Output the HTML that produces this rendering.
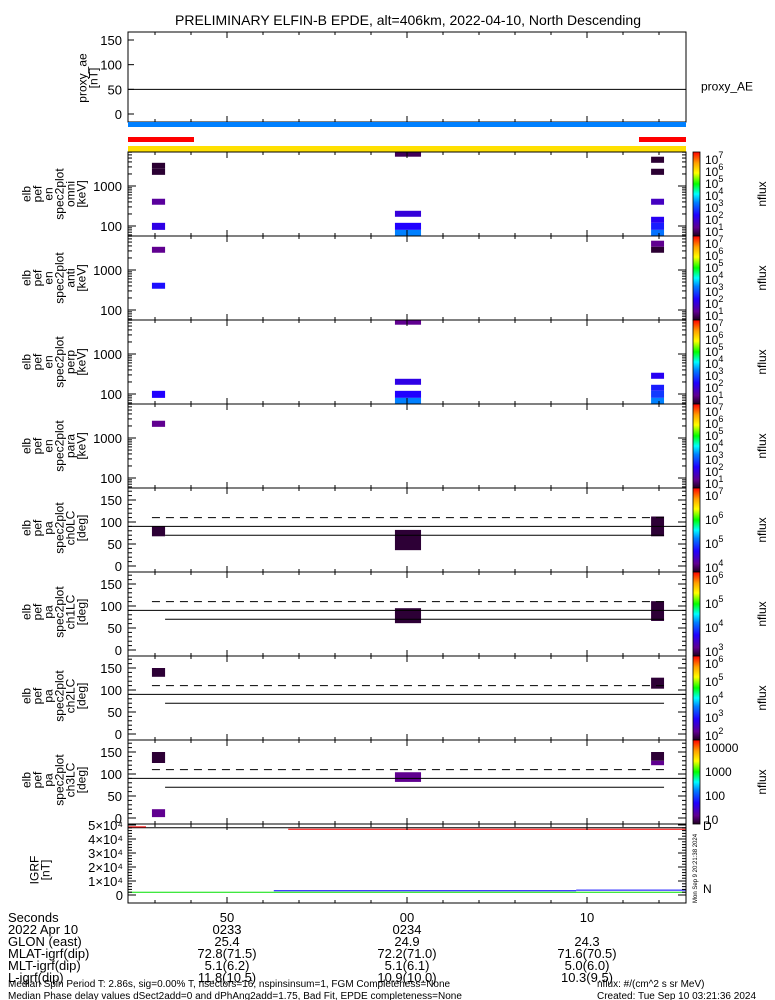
<!DOCTYPE html>
<html><head><meta charset="utf-8"><style>
html,body{margin:0;padding:0;background:#fff}
svg{display:block;font-family:"Liberation Sans",sans-serif}
text{fill:#000}
</style></head><body>
<svg id="s" width="775" height="1000" viewBox="0 0 775 1000">
<defs><linearGradient id="cmap" x1="0" y1="1" x2="0" y2="0">
<stop offset="0" stop-color="#200020"/><stop offset="0.1" stop-color="#600090"/><stop offset="0.25" stop-color="#2000ff"/><stop offset="0.4" stop-color="#0080ff"/><stop offset="0.5" stop-color="#00ffff"/><stop offset="0.62" stop-color="#00ff00"/><stop offset="0.75" stop-color="#ffff00"/><stop offset="0.87" stop-color="#ffa000"/><stop offset="1" stop-color="#ff0000"/></linearGradient></defs>
<text x="408" y="25" font-size="14" text-anchor="middle">PRELIMINARY ELFIN-B EPDE, alt=406km, 2022-04-10, North Descending</text>
<g id="g"></g>
</svg>
<script>
// ---- data ----
const aeTicks=[0,50,100,150];
const aeValue=50;
const energyEdges=[50,80,120,170,240,340,480,680,950,1350,1900,2700,3800,5400,7000];
const energyTicks=[100,1000];
const slotStart=[-4.17,9.33,23.56];
const slotEnd=[-3.44,10.78,24.28];
// spectra: [slot, energy-bin index, log10 nflux]
const omniBlocks=[[0,10,1.1],[0,11,1.1],[0,5,1.7],[0,1,2.3],[1,13,1.3],[1,3,2.2],[1,1,2.5],[1,0,3.4],[2,12,1.1],[2,10,1.1],[2,5,2.0],[2,2,2.4],[2,1,2.7],[2,0,3.3]];
const antiBlocks=[[0,11,1.6],[0,5,2.6],[2,12,1.6],[2,11,1.1]];
const perpBlocks=[[0,1,2.5],[1,13,1.6],[1,3,2.3],[1,1,2.5],[1,0,3.4],[2,4,2.4],[2,2,2.7],[2,1,2.9],[2,0,3.4]];
const paraBlocks=[[0,10,1.6]];
const paTicks=[0,50,100,150];
// pitch-angle blocks: [slot, pa low, pa high, fraction of colorbar]
const ch0Blocks=[[0,67.5,90,0.02],[1,36,82,0.02],[2,67.5,112.5,0.02]];
const ch1Blocks=[[1,61,95,0.02],[2,66,111,0.02]];
const ch2Blocks=[[0,130,150,0.02],[2,103,128,0.02]];
const ch3Blocks=[[0,125,150,0.02],[2,130,150,0.02],[2,120,130,0.1],[1,82,104,0.1],[0,2,20,0.1]];
const lossCone=[90,70,110];
const igrfTicks=["0","1×10⁴","2×10⁴","3×10⁴","4×10⁴","5×10⁴"];
const igrfTotal=48000, igrfD=[[-5.5,-4.5,48700],[3.4,25.5,47000]];
const igrfN=[[2.6,19.4,3000],[19.4,25.5,3500]], igrfE=2000;
const timeTicks=[0,10,20]; const timeLabels=["50","00","10"];
const rows=[["Seconds","50","00","10"],["2022 Apr 10","0233","0234",""],["GLON (east)","25.4","24.9","24.3"],["MLAT-igrf(dip)","72.8(71.5)","72.2(71.0)","71.6(70.5)"],["MLT-igrf(dip)","5.1(6.2)","5.1(6.1)","5.0(6.0)"],["L-igrf(dip)","11.8(10.5)","10.9(10.0)","10.3(9.5)"]];
// ---- drawing ----
const NS="http://www.w3.org/2000/svg",G=document.getElementById('g');
const X0=128,X1=686;
const xs=t=>X0+(t+5.5)*18;
function el(tag,at,txt){const e=document.createElementNS(NS,tag);for(const k in at)e.setAttribute(k,at[k]);if(txt!==undefined)e.textContent=txt;G.appendChild(e);return e;}
function cm(f){const st=[[0,[32,0,32]],[.1,[96,0,144]],[.25,[32,0,255]],[.4,[0,128,255]],[.5,[0,255,255]],[.62,[0,255,0]],[.75,[255,255,0]],[.87,[255,160,0]],[1,[255,0,0]]];
f=Math.max(0,Math.min(1,f));for(let i=1;i<st.length;i++)if(f<=st[i][0]){const a=st[i-1],b=st[i],u=(f-a[0])/(b[0]-a[0]);return 'rgb('+a[1].map((v,j)=>Math.round(v+(b[1][j]-v)*u)).join(',')+')';}return 'red';}
function xTicks(top,bot){for(let t=-4;t<=25;t+=2){const x=xs(t),big=t%10==0;
let e=el('line',{x1:x,x2:x,y1:top,y2:top+(big?6:3),stroke:'#000'});
e=el('line',{x1:x,x2:x,y1:bot,y2:bot-(big?6:3),stroke:'#000'});}}
function box(top,bot,name){const e=el('rect',{x:X0,y:top,width:X1-X0,height:bot-top,fill:'none',stroke:'#000'});xTicks(top,bot);}
function ylab(lines,cx,cy,name){const t=el('text',{transform:`translate(${cx},${cy}) rotate(-90)`,'font-size':12,'text-anchor':'middle'});
lines.forEach((l,i)=>{const s=document.createElementNS(NS,'tspan');s.setAttribute('x',0);s.setAttribute('dy',i==0?-(lines.length-1)*5.5:11);s.textContent=l;t.appendChild(s);});}
function cbar(top,bot,labels,name){let e=el('rect',{x:693,y:top,width:7,height:bot-top,fill:'url(#cmap)',stroke:'#000','stroke-width':.8});
labels.forEach((l,i)=>{const y=top+7+i*(bot-top-12)/(labels.length-1);const tx=el('text',{x:705,y:y+5,'font-size':12});
if(l[0]=='e'){tx.textContent='10';const s=document.createElementNS(NS,'tspan');s.setAttribute('dy',-6);s.setAttribute('font-size',9);s.textContent=l.slice(1);tx.appendChild(s);}else tx.textContent=l;});
e=el('text',{transform:`translate(766,${(top+bot)/2}) rotate(-90)`,'font-size':12,'text-anchor':'middle'},'nflux');}
// proxy AE
{const top=32,bot=122,ya=v=>114-v*(74/150);box(top,bot,'proxy-ae-panel');
aeTicks.forEach(v=>{let e=el('text',{x:122,y:ya(v)+5,'font-size':13,'text-anchor':'end'},v);
e=el('line',{x1:X0,x2:X0+6,y1:ya(v),y2:ya(v),stroke:'#000'});});
let e=el('line',{x1:X0,x2:X1,y1:ya(aeValue),y2:ya(aeValue),stroke:'#000'});
e=el('text',{x:701,y:ya(aeValue)+1,'font-size':12},'proxy_AE');
ylab(['proxy_ae','[nT]'],92,78,'ae-axis-title');
e=el('rect',{x:X0,y:122,width:X1-X0,height:5,fill:'#0080ff'});
e=el('rect',{x:X0,y:137,width:66,height:5,fill:'#ff0000'});
e=el('rect',{x:639,y:137,width:47,height:5,fill:'#ff0000'});
e=el('rect',{x:X0,y:146,width:X1-X0,height:6,fill:'#ffe000'});}
// spectra
const specs=[['omni',omniBlocks],['anti',antiBlocks],['perp',perpBlocks],['para',paraBlocks]];
specs.forEach((sp,k)=>{const top=152+k*84,bot=top+84,ye=E=>top+34-40*(Math.log10(E)-3);
sp[1].forEach(b=>{const y1=Math.max(top,ye(energyEdges[b[1]+1])),y2=Math.min(bot,ye(energyEdges[b[1]]));
const r=el('rect',{x:xs(slotStart[b[0]]),y:y1,width:xs(slotEnd[b[0]])-xs(slotStart[b[0]]),height:y2-y1,fill:cm((b[2]-1)/6)});
});
box(top,bot,sp[0]+'-spectrum-panel');
for(let d=1;d<=3;d++)for(let m=1;m<10;m++){const y=ye(m*Math.pow(10,d));if(y<top||y>bot)continue;
let e=el('line',{x1:X0,x2:X0+(m==1?8:4),y1:y,y2:y,stroke:'#000'});
e=el('line',{x1:X1,x2:X1-(m==1?8:4),y1:y,y2:y,stroke:'#000'});}
energyTicks.forEach(E=>{const e=el('text',{x:122,y:ye(E)+5,'font-size':13,'text-anchor':'end'},E);});
ylab(['elb','pef','en','spec2plot',sp[0],'[keV]'],58,top+42,sp[0]+'-axis-title');
cbar(top,bot,['e7','e6','e5','e4','e3','e2','e1'],sp[0]+'-colorbar');});
// pitch angle
const pas=[['ch0LC',ch0Blocks,['e7','e6','e5','e4']],['ch1LC',ch1Blocks,['e6','e5','e4','e3']],['ch2LC',ch2Blocks,['e6','e5','e4','e3','e2']],['ch3LC',ch3Blocks,['10000','1000','100','10']]];
pas.forEach((p,k)=>{const top=488+k*84,bot=top+84,yp=d=>top+78-d*0.44;
p[1].forEach(b=>{const r=el('rect',{x:xs(slotStart[b[0]]),y:yp(b[2]),width:xs(slotEnd[b[0]])-xs(slotStart[b[0]]),height:yp(b[1])-yp(b[2]),fill:cm(b[3])});
});
let e=el('line',{x1:X0,x2:X1,y1:yp(lossCone[0]),y2:yp(lossCone[0]),stroke:'#000'});
e=el('line',{x1:xs(-3.44),x2:xs(24.28),y1:yp(lossCone[1]),y2:yp(lossCone[1]),stroke:'#000'});
e=el('line',{x1:xs(-4.17),x2:xs(24.28),y1:yp(lossCone[2]),y2:yp(lossCone[2]),stroke:'#000','stroke-dasharray':'8,6'});
box(top,bot,p[0]+'-panel');
for(let d=0;d<=180;d+=10){const y=yp(d);if(y<top)continue;const big=d%50==0;
e=el('line',{x1:X0,x2:X0+(big?8:4),y1:y,y2:y,stroke:'#000'});
e=el('line',{x1:X1,x2:X1-(big?8:4),y1:y,y2:y,stroke:'#000'});}
paTicks.forEach(d=>{const e=el('text',{x:122,y:yp(d)+5,'font-size':13,'text-anchor':'end'},d);});
ylab(['elb','pef','pa','spec2plot',p[0],'[deg]'],58,top+40,p[0]+'-axis-title');
cbar(top,bot,p[2],p[0]+'-colorbar');});
// IGRF
{const top=824,bot=903,yb=v=>895-v*14/10000;
let e=el('line',{x1:X0,x2:X1,y1:yb(igrfTotal),y2:yb(igrfTotal),stroke:'#000'});
igrfD.forEach(s=>{const l=el('line',{x1:xs(s[0]),x2:xs(s[1]),y1:yb(s[2]),y2:yb(s[2]),stroke:'#ff0000'});});
e=el('line',{x1:X0,x2:X1,y1:yb(igrfE),y2:yb(igrfE),stroke:'#00e000'});
igrfN.forEach(s=>{const l=el('line',{x1:xs(s[0]),x2:xs(s[1]),y1:yb(s[2]),y2:yb(s[2]),stroke:'#0000ff'});});
box(top,bot,'igrf-panel');
for(let v=0;v<=50000;v+=2000){const y=yb(v);const big=v%10000==0;
e=el('line',{x1:X0,x2:X0+(big?8:4),y1:y,y2:y,stroke:'#000'});
e=el('line',{x1:X1,x2:X1-(big?8:4),y1:y,y2:y,stroke:'#000'});}
igrfTicks.forEach((l,i)=>{const e=el('text',{x:123,y:yb(i*10000)+5,'font-size':13,'text-anchor':'end'},l);});
ylab(['IGRF','[nT]'],44,870,'igrf-axis-title');
e=el('text',{x:703,y:830,'font-size':12,fill:'#ff0000'},'D');e.setAttribute('fill','#ff0000');
e=el('text',{x:703,y:893,'font-size':12},'N');e.setAttribute('fill','#00c000');
e=el('text',{transform:'translate(697,903) rotate(-90)','font-size':6},'Mon Sep  9 20:21:38 2024');}
// bottom annotation
rows.forEach((r,i)=>{const y=922+i*12;let e=el('text',{x:8,y:y,'font-size':13},r[0]);
timeTicks.forEach((t,j)=>{if(!r[j+1])return;const e2=el('text',{x:xs(t),y:y,'font-size':13,'text-anchor':'middle'},r[j+1]);});});
[["Median Spin Period T: 2.86s, sig=0.00% T, nsectors=16, nspinsinsum=1, FGM Completeness=None",8,987,"footer-line-1"],["Median Phase delay values dSect2add=0 and dPhAng2add=1.75, Bad Fit, EPDE completeness=None",8,999,"footer-line-2"],["nflux: #/(cm^2 s sr MeV)",597,987,"units-note"],["Created: Tue Sep 10 03:21:36 2024",597,999,"created-note"]].forEach(f=>{const e=el('text',{x:f[1],y:f[2],'font-size':10},f[0]);});
</script>
</body></html>
